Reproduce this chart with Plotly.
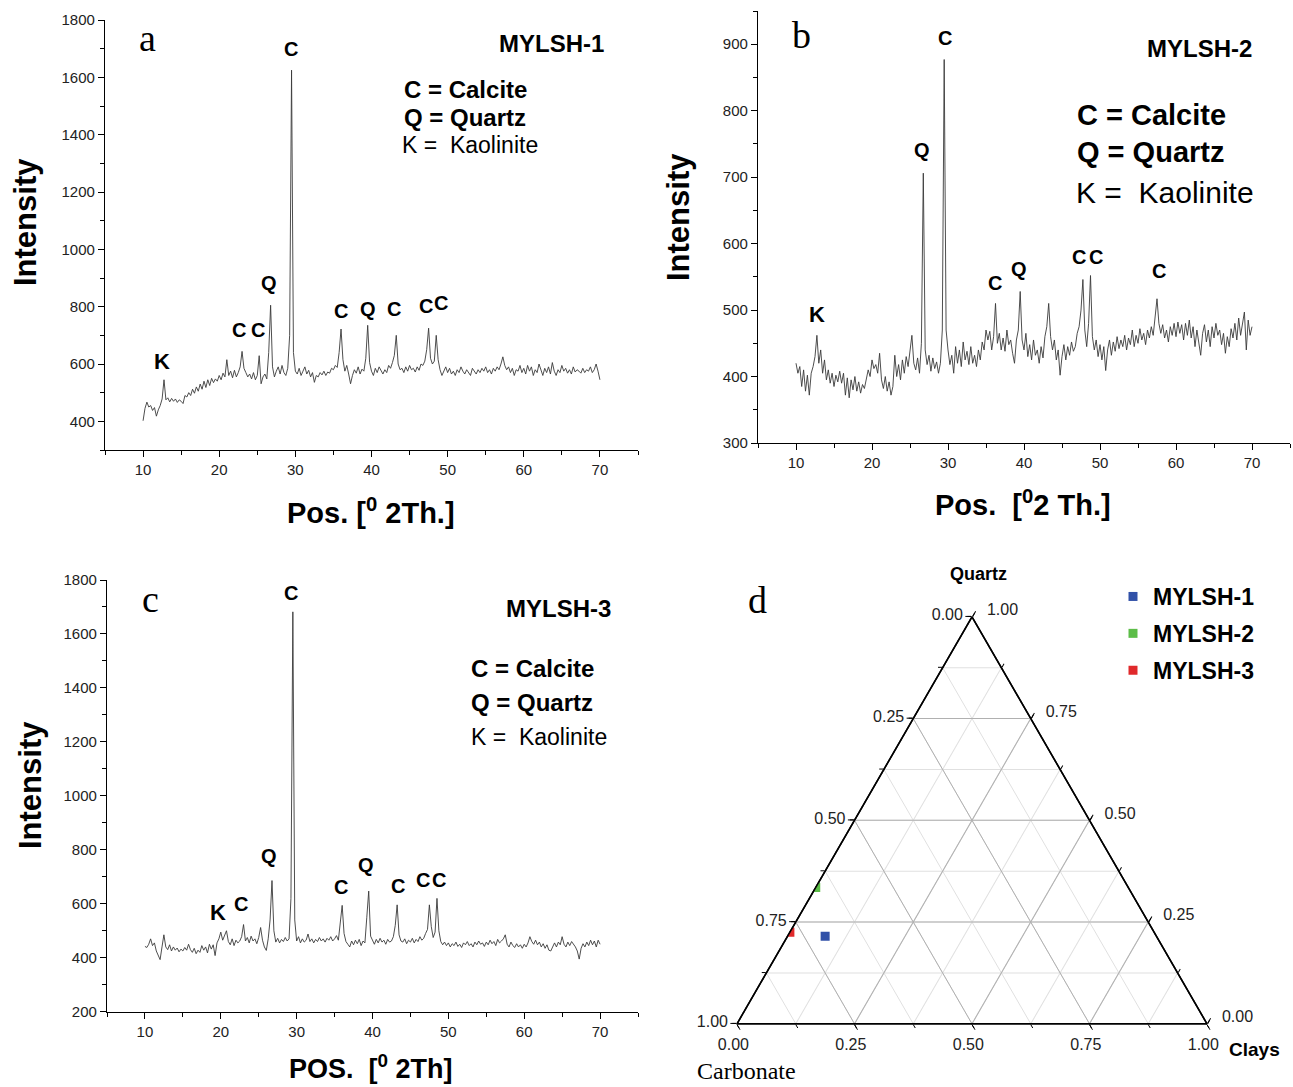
import plotly.graph_objects as go

W, H = 1293, 1087

# ---------------- data ----------------
X_START, X_STEP = 10.0, 0.25   # 2-theta sampling of the digitised patterns

MYLSH1_INTENSITY = (
    [402, 445, 467, 450, 455, 438, 448, 418, 440, 455, 478, 545, 475, 482, 468, 480, 470, 478, 466, 475]
    + [470, 462, 490, 485, 500, 490, 512, 498, 520, 505, 530, 512, 540, 518, 545, 525, 550, 535, 548, 540]
    + [560, 545, 568, 555, 615, 560, 575, 552, 578, 555, 570, 590, 644, 585, 570, 555, 565, 548, 570, 545]
    + [560, 629, 531, 555, 565, 548, 640, 805, 590, 555, 575, 590, 565, 595, 570, 560, 585, 700, 1625, 640]
    + [575, 565, 585, 560, 575, 590, 565, 578, 555, 570, 536, 560, 555, 570, 562, 575, 560, 572, 568, 585]
    + [580, 595, 588, 640, 722, 615, 575, 595, 565, 531, 560, 580, 568, 590, 565, 582, 575, 620, 735, 605]
    + [575, 560, 585, 570, 590, 575, 565, 580, 570, 595, 585, 605, 630, 700, 600, 580, 585, 570, 590, 575]
    + [595, 580, 585, 572, 590, 578, 600, 595, 610, 650, 725, 620, 600, 610, 700, 615, 580, 560, 575, 590]
    + [570, 585, 565, 575, 560, 580, 570, 590, 575, 565, 580, 572, 560, 585, 575, 565, 580, 570, 585, 575]
    + [590, 570, 580, 565, 585, 575, 590, 580, 600, 625, 595, 580, 590, 570, 585, 560, 580, 575, 595, 570]
    + [585, 565, 595, 575, 590, 560, 580, 570, 600, 575, 560, 585, 570, 590, 565, 605, 575, 560, 580, 570]
    + [595, 575, 585, 568, 580, 565, 590, 572, 580, 575, 568, 585, 570, 580, 575, 590, 570, 580, 600, 575]
    + [545]
)

MYLSH2_INTENSITY = (
    [420, 405, 415, 385, 410, 378, 402, 372, 405, 415, 430, 462, 420, 440, 405, 425, 395, 410, 390, 405]
    + [385, 402, 392, 408, 390, 405, 372, 398, 368, 395, 380, 400, 378, 392, 375, 388, 382, 398, 410, 400]
    + [425, 412, 418, 405, 435, 395, 382, 400, 378, 392, 372, 385, 432, 400, 418, 395, 425, 405, 430, 415]
    + [438, 462, 420, 410, 428, 405, 450, 706, 440, 418, 432, 408, 428, 412, 422, 405, 420, 470, 877, 470]
    + [440, 418, 432, 405, 445, 420, 440, 415, 452, 425, 438, 418, 445, 420, 432, 415, 440, 425, 452, 440]
    + [470, 455, 468, 440, 460, 510, 450, 465, 440, 458, 438, 470, 448, 455, 435, 420, 455, 470, 528, 455]
    + [440, 465, 430, 448, 425, 455, 432, 440, 420, 445, 428, 460, 475, 510, 460, 440, 455, 425, 440, 402]
    + [430, 448, 425, 445, 432, 452, 438, 445, 465, 475, 500, 546, 470, 445, 480, 552, 460, 440, 455, 430]
    + [448, 425, 445, 409, 440, 455, 432, 452, 438, 460, 442, 455, 445, 462, 440, 458, 448, 470, 445, 462]
    + [450, 472, 455, 465, 448, 470, 458, 475, 462, 490, 517, 480, 465, 478, 458, 470, 452, 475, 462, 480]
    + [460, 482, 465, 478, 455, 480, 462, 485, 458, 475, 445, 470, 448, 432, 465, 478, 452, 470, 445, 475]
    + [458, 480, 462, 470, 448, 465, 435, 460, 445, 472, 458, 480, 455, 488, 462, 478, 497, 440, 485, 462]
    + [475]
)

MYLSH3_INTENSITY = (
    [442, 438, 450, 470, 445, 455, 425, 410, 393, 440, 485, 440, 430, 448, 425, 440, 428, 436, 422, 432]
    + [425, 438, 428, 450, 430, 420, 435, 415, 428, 420, 445, 428, 440, 418, 450, 432, 448, 408, 455, 470]
    + [495, 465, 480, 500, 460, 448, 470, 445, 465, 455, 462, 478, 523, 462, 475, 455, 480, 462, 470, 452]
    + [475, 512, 465, 440, 427, 470, 540, 686, 500, 458, 472, 455, 468, 460, 475, 462, 470, 620, 1682, 540]
    + [462, 478, 455, 470, 458, 465, 488, 460, 470, 455, 468, 460, 475, 462, 470, 458, 472, 465, 478, 462]
    + [470, 482, 465, 520, 594, 490, 460, 450, 440, 462, 448, 465, 452, 468, 445, 462, 455, 550, 647, 480]
    + [462, 450, 468, 455, 472, 458, 465, 450, 468, 458, 462, 478, 520, 596, 485, 462, 458, 470, 452, 465]
    + [458, 472, 455, 468, 460, 478, 465, 472, 490, 505, 596, 515, 475, 495, 620, 500, 460, 448, 458, 445]
    + [455, 440, 452, 445, 458, 442, 450, 438, 455, 448, 460, 445, 452, 440, 458, 448, 462, 450, 455, 442]
    + [458, 448, 465, 452, 460, 445, 468, 455, 462, 470, 485, 450, 440, 458, 445, 438, 452, 440, 448, 435]
    + [450, 440, 455, 478, 460, 450, 465, 448, 458, 440, 452, 435, 448, 428, 425, 442, 455, 440, 458, 448]
    + [478, 450, 440, 458, 445, 460, 450, 440, 425, 395, 435, 452, 440, 458, 445, 465, 448, 462, 440, 465]
    + [450]
)

# peak labels (phase letter, 2-theta, intensity where the letter sits)
PEAKS_A_TEXT = ["K", "C", "C", "Q", "C", "C", "Q", "C", "C", "C"]
PEAKS_A_X = [12.5, 22.6, 25.1, 26.6, 29.4, 36.0, 39.5, 43.0, 47.1, 49.1]
PEAKS_A_Y = [610, 719, 719, 882, 1699, 785, 792, 792, 802, 813]

PEAKS_B_TEXT = ["K", "Q", "C", "C", "Q", "C", "C", "C"]
PEAKS_B_X = [12.8, 26.6, 29.6, 36.2, 39.4, 47.3, 49.5, 57.7]
PEAKS_B_Y = [493, 741, 909, 540, 562, 580, 580, 559]

PEAKS_C_TEXT = ["K", "C", "Q", "C", "C", "Q", "C", "C", "C"]
PEAKS_C_X = [19.6, 22.6, 26.4, 29.2, 35.9, 39.2, 43.3, 46.7, 48.8]
PEAKS_C_Y = [569, 599, 777, 1750, 662, 743, 666, 688, 688]

# ternary composition
SAMPLES = ["MYLSH-1", "MYLSH-2", "MYLSH-3"]
QUARTZ = [0.215, 0.335, 0.225]
CARBONATE = [0.705, 0.665, 0.775]
CLAYS = [0.080, 0.000, 0.000]
SAMPLE_COLORS = ["#3151a8", "#5cbd48", "#e0292b"]

TERN_MINOR = [0, 0.125, 0.25, 0.375, 0.5, 0.625, 0.75, 0.875, 1.0]
TERN_MAJOR = [0, 0.25, 0.5, 0.75, 1.0]

# ---------------- style ----------------
BOLDF = "Liberation Sans Narrow, Arial Narrow, Liberation Sans, Arial, sans-serif"
SANS = "Liberation Sans, Arial, sans-serif"
SERIF = "Liberation Serif, Times New Roman, serif"
LINE = "#3a3a3a"
NB = "\u00a0"


def xs(vals):
    return [round(X_START + X_STEP * i, 3) for i in range(len(vals))]


def px(x, y):
    return x / W, 1 - y / H


fig = go.Figure()
for vals, xa, ya in [(MYLSH1_INTENSITY, "x", "y"), (MYLSH2_INTENSITY, "x2", "y2"), (MYLSH3_INTENSITY, "x3", "y3")]:
    fig.add_trace(go.Scatter(x=xs(vals), y=vals, mode="lines", xaxis=xa, yaxis=ya,
                             line=dict(color=LINE, width=0.9), showlegend=False, hoverinfo="skip"))

# invisible copy on the lower ternary layer so that its (minor) grid gets drawn
fig.add_trace(go.Scatterternary(a=QUARTZ, b=CARBONATE, c=CLAYS, mode="markers", subplot="ternary",
                                marker=dict(size=1, opacity=0), showlegend=False, hoverinfo="skip"))

for name, q, cb, cl, col in zip(SAMPLES, QUARTZ, CARBONATE, CLAYS, SAMPLE_COLORS):
    fig.add_trace(go.Scatterternary(a=[q], b=[cb], c=[cl], mode="markers", name=name,
                                    legendgroup=name, subplot="ternary2",
                                    marker=dict(symbol="square", size=9, color=col)))


def cart_axis(domain, rng, dtick, mdtick, anchor):
    return dict(domain=domain, range=rng, dtick=dtick, tick0=0, anchor=anchor,
                showline=True, linecolor="black", linewidth=1.3, mirror=False,
                ticks="outside", ticklen=6, tickwidth=1.3, tickcolor="black",
                showgrid=False, zeroline=False, automargin=False,
                tickfont=dict(family=SANS, size=15, color="#222"),
                minor=dict(ticks="outside", ticklen=4, tickwidth=1.3, tickcolor="black",
                           dtick=mdtick, tick0=0, showgrid=False))


xa_dom = [105 / W, 638 / W]
xb_dom = [758 / W, 1290 / W]
xc_dom = [107 / W, 638 / W]
ya_dom = [1 - 450 / H, 1 - 20 / H]
yb_dom = [1 - 443 / H, 1 - 11 / H]
yc_dom = [1 - 1011.7 / H, 1 - 580 / H]

tx0, tx1 = 737, 1207
ty0, ty1 = 616.8, 1023.8


def tern_axis(vals, texts, gridcolor, ticklen, labels):
    return dict(tickmode="array", tickvals=vals, ticktext=texts, showgrid=True,
                gridcolor=gridcolor, gridwidth=1, showline=True, linecolor="black",
                linewidth=1.5, ticks="outside", ticklen=ticklen, tickwidth=1.2,
                tickcolor="black", showticklabels=labels, min=0,
                tickfont=dict(family=SANS, size=16, color="#222"), title=dict(text=""))


minor_txt = ["%.3f" % v for v in TERN_MINOR]
a_txt = ["%.2f" % (1 - v) for v in TERN_MAJOR]
b_txt = ["%.2f" % (1 - v) + NB * 3 for v in TERN_MAJOR]
c_txt = [NB * 2 + "%.2f" % (1 - v) for v in TERN_MAJOR]

fig.update_layout(
    width=W, height=H, autosize=False,
    margin=dict(l=0, r=0, t=0, b=0, pad=0, autoexpand=False),
    paper_bgcolor="white", plot_bgcolor="white",
    xaxis=cart_axis(xa_dom, [5, 75], 10, 5, "y"),
    yaxis=cart_axis(ya_dom, [300, 1800], 200, 100, "x"),
    xaxis2=cart_axis(xb_dom, [5, 75], 10, 5, "y2"),
    yaxis2=cart_axis(yb_dom, [300, 950], 100, 50, "x2"),
    xaxis3=cart_axis(xc_dom, [5, 75], 10, 5, "y3"),
    yaxis3=cart_axis(yc_dom, [200, 1800], 200, 100, "x3"),
    ternary=dict(domain=dict(x=[tx0 / W, tx1 / W], y=[1 - ty1 / H, 1 - ty0 / H]), sum=1,
                 bgcolor="white",
                 aaxis=tern_axis(TERN_MINOR, minor_txt, "#e0e0e0", 4, False),
                 baxis=tern_axis(TERN_MINOR, minor_txt, "#e0e0e0", 4, False),
                 caxis=tern_axis(TERN_MINOR, minor_txt, "#e0e0e0", 4, False)),
    ternary2=dict(domain=dict(x=[tx0 / W, tx1 / W], y=[1 - ty1 / H, 1 - ty0 / H]), sum=1,
                  bgcolor="rgba(0,0,0,0)",
                  aaxis=tern_axis(TERN_MAJOR, a_txt, "#b0b0b0", 6, True),
                  baxis=tern_axis(TERN_MAJOR, b_txt, "#b0b0b0", 6, True),
                  caxis=tern_axis(TERN_MAJOR, c_txt, "#b0b0b0", 6, True)),
    showlegend=True,
    legend=dict(x=1113 / W, y=1 - 575 / H, xanchor="left", yanchor="top",
                bgcolor="rgba(0,0,0,0)", tracegroupgap=4, itemwidth=30,
                font=dict(family=BOLDF, size=23, color="black", weight="bold")),
)

ann = []


def add_paper(text, x, y, family, size, weight="normal", xanchor="center", angle=0):
    xp, yp = px(x, y)
    ann.append(dict(text=text, x=xp, y=yp, xref="paper", yref="paper", showarrow=False,
                    xanchor=xanchor, yanchor="middle", textangle=angle,
                    font=dict(family=family, size=size, color="black", weight=weight)))


def add_peaks(texts, xv, yv, xref, yref):
    for t, x, y in zip(texts, xv, yv):
        fam, sz = (SANS, 22) if t == "K" else (BOLDF, 20)
        ann.append(dict(text=t, x=x, y=y, xref=xref, yref=yref, showarrow=False,
                        xanchor="center", yanchor="middle",
                        font=dict(family=fam, size=sz, color="black", weight="bold")))


add_peaks(PEAKS_A_TEXT, PEAKS_A_X, PEAKS_A_Y, "x", "y")
add_peaks(PEAKS_B_TEXT, PEAKS_B_X, PEAKS_B_Y, "x2", "y2")
add_peaks(PEAKS_C_TEXT, PEAKS_C_X, PEAKS_C_Y, "x3", "y3")

# panel a
add_paper("a", 147, 38, SERIF, 38)
add_paper("MYLSH-1", 551, 43, BOLDF, 24, "bold")
add_paper("C = Calcite", 402, 90, BOLDF, 24, "bold", "left")
add_paper("Q = Quartz", 402, 117, BOLDF, 24, "bold", "left")
add_paper("K =  Kaolinite", 400, 145, SANS, 23, "normal", "left")
add_paper("Intensity", 25, 222, BOLDF, 31, "bold", angle=-90)
add_paper("Pos. [<sup>0</sup> 2Th.]", 371, 511, BOLDF, 29, "bold")
# panel b
add_paper("b", 801, 35, SERIF, 38)
add_paper("MYLSH-2", 1199, 48, BOLDF, 24, "bold")
add_paper("C = Calcite", 1075, 115, BOLDF, 29, "bold", "left")
add_paper("Q = Quartz", 1075, 152, BOLDF, 29, "bold", "left")
add_paper("K =  Kaolinite", 1074, 193, SANS, 30, "normal", "left")
add_paper("Intensity", 678, 217, BOLDF, 31, "bold", angle=-90)
add_paper("Pos.  [<sup>0</sup>2 Th.]", 1023, 503, BOLDF, 29, "bold")
# panel c
add_paper("c", 150, 599, SERIF, 38)
add_paper("MYLSH-3", 558, 608, BOLDF, 24, "bold")
add_paper("C = Calcite", 469, 668, BOLDF, 24, "bold", "left")
add_paper("Q = Quartz", 469, 702, BOLDF, 24, "bold", "left")
add_paper("K =  Kaolinite", 469, 737, SANS, 23, "normal", "left")
add_paper("Intensity", 30, 785, BOLDF, 31, "bold", angle=-90)
add_paper("POS.  [<sup>0</sup> 2Th]", 371, 1067, BOLDF, 27, "bold")
# panel d
add_paper("d", 757, 600, SERIF, 38)
add_paper("Quartz", 978, 574, SANS, 18, "bold")
add_paper("Clays", 1254, 1049, SANS, 19, "bold")
add_paper("Carbonate", 746, 1071, SERIF, 24)

fig.update_layout(annotations=ann)
fig.write_html("out.html", config={"displayModeBar": False, "responsive": False},
               post_script="document.body.style.margin='0px';")
